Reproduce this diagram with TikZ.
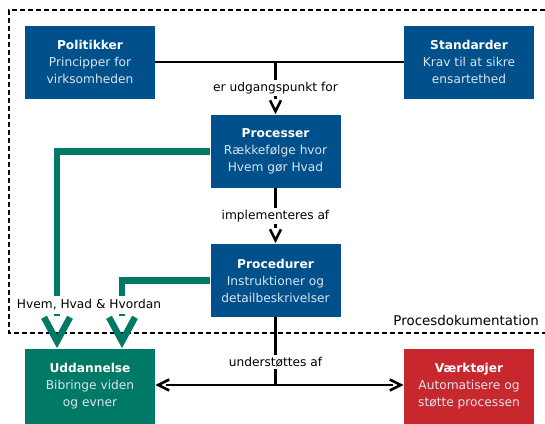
\documentclass[tikz,border=0pt]{standalone}
\usepackage{fontspec}
\setmainfont{DejaVu Sans}
\usetikzlibrary{arrows.meta,calc}
\definecolor{pblue}{RGB}{0,80,140}
\definecolor{pgreen}{RGB}{0,122,102}
\definecolor{pred}{RGB}{200,40,45}
\definecolor{ptext}{RGB}{220,228,238}
\newcommand{\boxtitle}[1]{{\bfseries\color{white}#1}}
\tikzset{
  box/.style={minimum width=130pt, minimum height=73pt, align=center, inner sep=0pt, text=ptext, font=\fontsize{12.2}{17}\selectfont},
  blk/.style={line width=2.6pt, draw=black},
  blkv/.style={line width=2.6pt, draw=black, line join=miter},
  grn/.style={line width=6.5pt, draw=pgreen},
  grnv/.style={line width=6.5pt, draw=pgreen, line join=miter},
  lbl/.style={fill=white, inner sep=2pt, font=\fontsize{12.2}{14}\selectfont}
}
\begin{document}
\begin{tikzpicture}[x=1pt,y=-1pt]
\useasboundingbox (0,0) rectangle (545,423);
% dashed frame
\draw[line width=1.2pt, dash pattern=on 5pt off 3pt] (545,10) -- (9,10) -- (9,333) -- (545,333);
\node[anchor=south east, font=\fontsize{13.4}{15}\selectfont, inner sep=0pt] (pd) at (539,326) {Procesdokumentation};
% boxes
\node[box, fill=pblue] (pol) at (90,62) {\boxtitle{Politikker}\\Principper for\\virksomheden};
\node[box, fill=pblue] (std) at (469,62) {\boxtitle{Standarder}\\Krav til at sikre\\ensartethed};
\node[box, fill=pblue] (proc) at (275.5,151.5) {\boxtitle{Processer}\\Rækkefølge hvor\\Hvem gør Hvad};
\node[box, fill=pblue] (pdr) at (275.5,280.5) {\boxtitle{Procedurer}\\Instruktioner og\\detailbeskrivelser};
\node[box, fill=pgreen, minimum height=75pt] (udd) at (90,386.5) {\boxtitle{Uddannelse}\\Bibringe viden\\og evner};
\node[box, fill=pred, minimum height=75pt] (vrk) at (469,386.5) {\boxtitle{Værktøjer}\\Automatisere og\\støtte processen};
% coordinates
\coordinate (top) at (275.5,62);
\coordinate (bot) at (275.5,385);
\coordinate (t1) at ($(proc.north)+(0,-3.5)$);
\coordinate (t2) at ($(pdr.north)+(0,-3.5)$);
\coordinate (t3) at ($(udd.east |- bot)+(3,0)$);
\coordinate (t4) at ($(vrk.west |- bot)+(-3,0)$);
% black connectors
\draw[blk] (pol.east) -- (std.west);
\draw[blk, shorten >=16pt] (top) -- (proc.north);
\draw[blkv] ($(t1)+(-5.5,-11)$) -- (t1) -- ($(t1)+(5.5,-11)$);
\node[lbl] (l1) at (275.5,88) {er udgangspunkt for};
\draw[blk, shorten >=16pt] (proc.south) -- (pdr.north);
\draw[blkv] ($(t2)+(-5.5,-11)$) -- (t2) -- ($(t2)+(5.5,-11)$);
\node[lbl] (l2) at (275.5,216) {implementeres af};
\draw[blk] (pdr.south) -- (bot);
\draw[blk, shorten >=11pt] (bot) -- (udd.east |- bot);
\draw[blkv] ($(t3)+(11,-5.5)$) -- (t3) -- ($(t3)+(11,5.5)$);
\draw[blk, shorten >=11pt] (bot) -- (vrk.west |- bot);
\draw[blkv] ($(t4)+(-11,-5.5)$) -- (t4) -- ($(t4)+(-11,5.5)$);
\node[lbl] (l3) at (275.5,362) {understøttes af};
% green connectors
\coordinate (g1) at (57,151.5);
\coordinate (g2) at (122,280.5);
\coordinate (tg1) at ($(g1 |- udd.north)+(0,-7.5)$);
\coordinate (tg2) at ($(g2 |- udd.north)+(0,-7.5)$);
\draw[grn, shorten >=33pt] (proc.west |- g1) -- (g1) -- (g1 |- udd.north);
\draw[grnv] ($(tg1)+(-13,-24)$) -- (tg1) -- ($(tg1)+(13,-24)$);
\draw[grn, shorten >=33pt] (pdr.west |- g2) -- (g2) -- (g2 |- udd.north);
\draw[grnv] ($(tg2)+(-13,-24)$) -- (tg2) -- ($(tg2)+(13,-24)$);
\node[lbl, inner ysep=4pt] (l4) at (89,305) {Hvem, Hvad \& Hvordan};
\end{tikzpicture}
\end{document}
